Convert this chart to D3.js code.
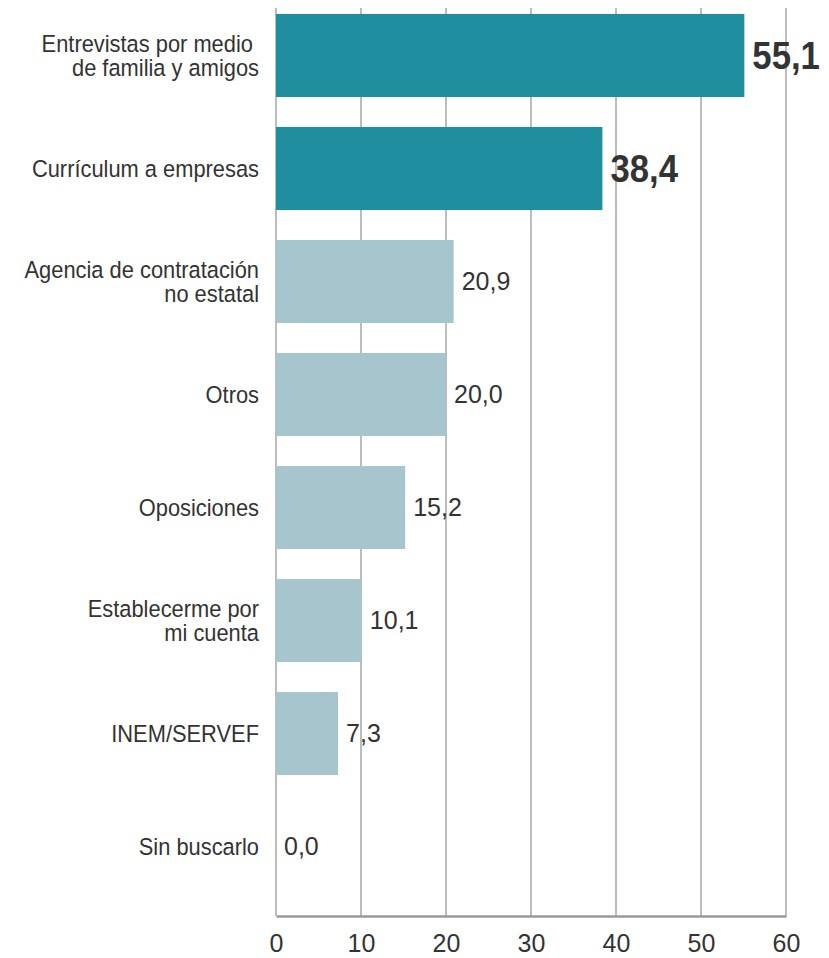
<!DOCTYPE html>
<meta charset="utf-8">
<style>
    body {
        margin: 0;
        background: #fff;
    }

    text {
        font-family: "Liberation Sans", Arial, sans-serif;
        fill: #333;
    }

    .grid line {
        stroke: #a6a6a6;
        stroke-width: 1.5px;
    }
</style>
<script src="https://d3js.org/d3.v7.min.js"></script>

<div id="chart"></div>

<script>
var categories = [
    ["Entrevistas por medio ", "de familia y amigos"],
    ["Currículum a empresas"],
    ["Agencia de contratación", "no estatal"],
    ["Otros"],
    ["Oposiciones"],
    ["Establecerme por", "mi cuenta"],
    ["INEM/SERVEF"],
    ["Sin buscarlo"]
];
var values = [55.1, 38.4, 20.9, 20.0, 15.2, 10.1, 7.3, 0.0];
var highlight = [true, true, false, false, false, false, false, false];
var ticks = [0, 10, 20, 30, 40, 50, 60];

var width = 829,
    height = 958;

var svg = d3.select("#chart").append("svg")
    .attr("width", width)
    .attr("height", height);

var x = d3.scaleLinear()
    .domain([0, 60])
    .range([276, 786]);

var y = d3.scaleBand()
    .domain(d3.range(categories.length))
    .range([-1, 903])
    .paddingInner(0.265)
    .paddingOuter(0.1325);

var fmt = function (v) { return d3.format(".1f")(v).replace(".", ","); };

// grid lines
svg.append("g")
    .attr("class", "grid")
    .selectAll("line")
    .data(ticks)
    .enter().append("line")
    .attr("x1", function (d) { return x(d); })
    .attr("x2", function (d) { return x(d); })
    .attr("y1", 8)
    .attr("y2", 916);

// bars
svg.selectAll("rect.bar")
    .data(values)
    .enter().append("rect")
    .attr("class", "bar")
    .attr("x", x(0))
    .attr("y", function (d, i) { return y(i); })
    .attr("width", function (d) { return x(d) - x(0); })
    .attr("height", y.bandwidth())
    .style("fill", function (d, i) { return highlight[i] ? "#1f8e9e" : "#a7c5cc"; });

// bottom axis
var xAxis = svg.append("g")
    .attr("transform", "translate(0,916)")
    .call(d3.axisBottom(x).tickValues(ticks).tickSize(0).tickPadding(18));
xAxis.select(".domain").attr("stroke", "#999").attr("stroke-width", 2.5);
xAxis.selectAll("text")
    .style("font-size", "25px")
    .attr("font-family", null)
    .attr("fill", null);

// category labels (slightly condensed like the original)
var labels = svg.selectAll("text.cat")
    .data(categories)
    .enter().append("text")
    .attr("class", "cat")
    .attr("text-anchor", "end")
    .style("font-size", "23.5px")
    .attr("transform", function (d, i) {
        return "translate(259," + (y(i) + y.bandwidth() / 2) + ") scale(0.93,1)";
    });

labels.selectAll("tspan")
    .data(function (d) { return d.map(function (t, j) { return { t: t, j: j, n: d.length }; }); })
    .enter().append("tspan")
    .attr("x", 0)
    .attr("y", function (d) { return (d.j - (d.n - 1) / 2) * 24; })
    .attr("dy", "0.35em")
    .style("white-space", "pre")
    .text(function (d) { return d.t; });

// value labels
svg.selectAll("text.val")
    .data(values)
    .enter().append("text")
    .attr("class", "val")
    .attr("transform", function (d, i) {
        return "translate(" + (x(d) + 8) + "," + (y(i) + y.bandwidth() / 2) + ")" +
            (highlight[i] ? " scale(0.89,1)" : "");
    })
    .attr("dy", "0.35em")
    .style("font-size", function (d, i) { return highlight[i] ? "39px" : "25px"; })
    .style("font-weight", function (d, i) { return highlight[i] ? "bold" : "normal"; })
    .text(fmt);
</script>
